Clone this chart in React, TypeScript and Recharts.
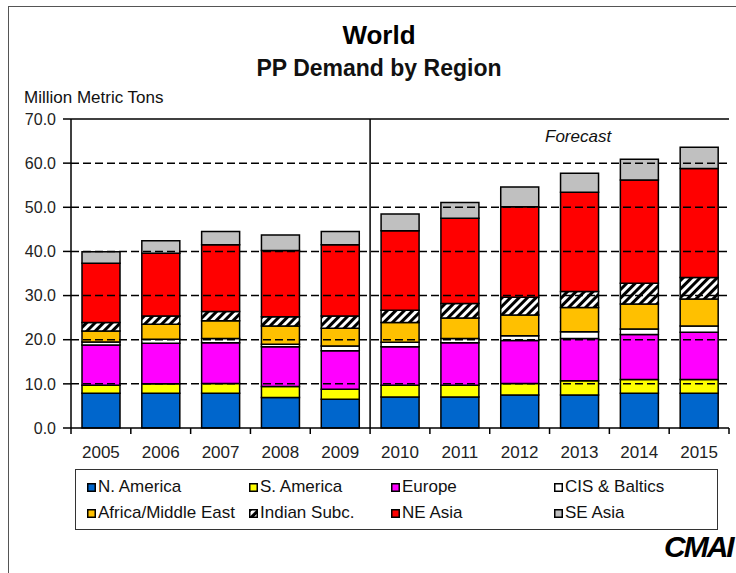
import React from "react";
import { BarChart, Bar, XAxis, YAxis, ReferenceLine } from "recharts";

// PP demand by region, million metric tons
const years = ["2005", "2006", "2007", "2008", "2009", "2010", "2011", "2012", "2013", "2014", "2015"];
const nAmerica = [7.9, 7.9, 7.9, 6.9, 6.5, 7.0, 7.0, 7.5, 7.5, 7.9, 7.9];
const sAmerica = [1.8, 2.1, 2.2, 2.5, 2.3, 2.7, 2.7, 2.6, 3.2, 3.1, 3.1];
const europe = [9.1, 9.2, 9.2, 9.0, 8.7, 8.7, 9.6, 9.7, 9.6, 10.2, 10.7];
const cisBaltics = [0.7, 0.9, 1.0, 0.6, 1.1, 1.0, 1.0, 1.1, 1.5, 1.2, 1.4];
const africaMidEast = [2.5, 3.4, 4.0, 4.1, 4.0, 4.5, 4.6, 4.7, 5.5, 5.7, 6.1];
const indianSubc = [1.9, 1.9, 2.1, 2.1, 2.8, 2.8, 3.3, 4.0, 3.6, 4.7, 4.9];
const neAsia = [13.4, 14.2, 15.1, 15.0, 16.1, 18.0, 19.3, 20.5, 22.5, 23.4, 24.7];
const seAsia = [2.6, 2.8, 3.0, 3.5, 3.0, 3.8, 3.6, 4.5, 4.3, 4.7, 4.8];

const yTicks = [0, 10, 20, 30, 40, 50, 60, 70];
const gridValues = [10, 20, 30, 40, 50, 60];
const forecastFrom = "2010";

const series = [
  { key: "na", name: "N. America", values: nAmerica, fill: "#0066cc" },
  { key: "sa", name: "S. America", values: sAmerica, fill: "#ffff00" },
  { key: "eu", name: "Europe", values: europe, fill: "#ff00ff" },
  { key: "cis", name: "CIS & Baltics", values: cisBaltics, fill: "#ffffff" },
  { key: "afme", name: "Africa/Middle East", values: africaMidEast, fill: "#ffc000" },
  { key: "ind", name: "Indian Subc.", values: indianSubc, fill: "url(#hatch)" },
  { key: "nea", name: "NE Asia", values: neAsia, fill: "#ff0000" },
  { key: "sea", name: "SE Asia", values: seAsia, fill: "#c0c0c0" },
];

const data = years.map((year, i) => {
  const row: Record<string, string | number> = { year };
  series.forEach((s) => {
    row[s.key] = s.values[i];
  });
  return row;
});

const FONT = "'Liberation Sans', Arial, sans-serif";
const LABEL_GAP = 18;

// year label plus a short tick mark on the category boundaries
const YearTick = (props: any) => {
  const { x, y, payload, width, visibleTicksCount, index } = props;
  const half = width / visibleTicksCount / 2;
  const axisY = y - LABEL_GAP;
  const last = index === visibleTicksCount - 1;
  return (
    <g>
      <line x1={x - half} x2={x - half} y1={axisY} y2={axisY + 6} stroke="#000" strokeWidth={1.5} />
      {last && <line x1={x + half} x2={x + half} y1={axisY} y2={axisY + 6} stroke="#000" strokeWidth={1.5} />}
      <text x={x} y={y} dy="0.71em" textAnchor="middle" fontSize={17} fill="#222" fontFamily={FONT}>
        {payload.value}
      </text>
    </g>
  );
};

function LegendBox() {
  return (
    <div
      style={{
        position: "absolute",
        left: 75,
        top: 469,
        width: 643,
        height: 61,
        border: "1.5px solid #333",
        boxSizing: "border-box",
        display: "grid",
        gridTemplateColumns: "162px 142px 163px 150px",
        gridTemplateRows: "26px 26px",
        padding: "4px 0 0 11px",
        fontFamily: FONT,
        fontSize: 17,
        color: "#111",
      }}
    >
      {series.map((s) => (
        <div key={s.key} style={{ display: "flex", alignItems: "center", whiteSpace: "nowrap" }}>
          <svg width={9} height={9} style={{ marginRight: 2 }}>
            <rect x={0.75} y={0.75} width={7.5} height={7.5} fill={s.fill} stroke="#000" strokeWidth={1.5} />
          </svg>
          {s.name}
        </div>
      ))}
    </div>
  );
}

export default function App() {
  return (
    <div
      style={{
        position: "absolute",
        left: 0,
        top: 0,
        width: 736,
        height: 573,
        background: "#fff",
        overflow: "hidden",
        fontFamily: FONT,
      }}
    >
      {/* outer frame */}
      <div
        style={{
          position: "absolute",
          left: 8,
          top: 6,
          width: 800,
          height: 700,
          borderLeft: "1.5px solid #555",
          borderTop: "1.5px solid #555",
        }}
      />
      <div style={{ position: "absolute", left: 0, width: 758, top: 20, textAlign: "center", fontSize: 26, fontWeight: "bold" }}>
        World
      </div>
      <div style={{ position: "absolute", left: 0, width: 758, top: 55, textAlign: "center", fontSize: 23, fontWeight: "bold", color: "#111" }}>
        PP Demand by Region
      </div>
      <div style={{ position: "absolute", left: 24, top: 88, fontSize: 17, color: "#111" }}>Million Metric Tons</div>
      <div style={{ position: "absolute", left: 545, top: 127, fontSize: 17, fontStyle: "italic", color: "#111" }}>Forecast</div>

      <div style={{ position: "absolute", left: 0, top: 0 }}>
        <BarChart
          width={736}
          height={573}
          data={data}
          barSize={38}
          margin={{ top: 119, right: 7, bottom: 115, left: 11 }}
        >
          <defs>
            <pattern id="hatch" patternUnits="userSpaceOnUse" width={6} height={6} patternTransform="rotate(45)">
              <rect width={6} height={6} fill="#fff" />
              <rect width={3} height={6} fill="#000" />
            </pattern>
          </defs>
          <XAxis
            dataKey="year"
            height={30}
            tickLine={false}
            tickSize={0}
            tickMargin={LABEL_GAP}
            interval={0}
            axisLine={{ stroke: "#000", strokeWidth: 1.5 }}
            tick={<YearTick />}
          />
          <YAxis
            width={60}
            domain={[0, 70]}
            ticks={yTicks}
            interval={0}
            tickFormatter={(v: number) => v.toFixed(1)}
            tickSize={8}
            tickMargin={7}
            axisLine={{ stroke: "#000", strokeWidth: 1.5 }}
            tickLine={{ stroke: "#000", strokeWidth: 1.5 }}
            tick={{ fontSize: 16, fill: "#222", fontFamily: FONT }}
          />
          {gridValues.map((v) => (
            <ReferenceLine key={v} y={v} stroke="#000" strokeWidth={1.5} strokeDasharray="8 4" />
          ))}
          {series.map((s) => (
            <Bar
              key={s.key}
              dataKey={s.key}
              name={s.name}
              stackId="demand"
              fill={s.fill}
              stroke="#000"
              strokeWidth={1.5}
              isAnimationActive={false}
            />
          ))}
          <ReferenceLine y={70} stroke="#000" strokeWidth={1.5} />
          <ReferenceLine x={years[years.length - 1]} position="end" stroke="#000" strokeWidth={1.5} />
          <ReferenceLine x={forecastFrom} position="start" stroke="#000" strokeWidth={1.5} />
        </BarChart>
      </div>

      <LegendBox />
      <div
        style={{
          position: "absolute",
          left: 664,
          top: 530,
          fontSize: 30,
          fontStyle: "italic",
          fontWeight: "bold",
          letterSpacing: -2,
          color: "#000",
        }}
      >
        CMAI
      </div>
    </div>
  );
}
